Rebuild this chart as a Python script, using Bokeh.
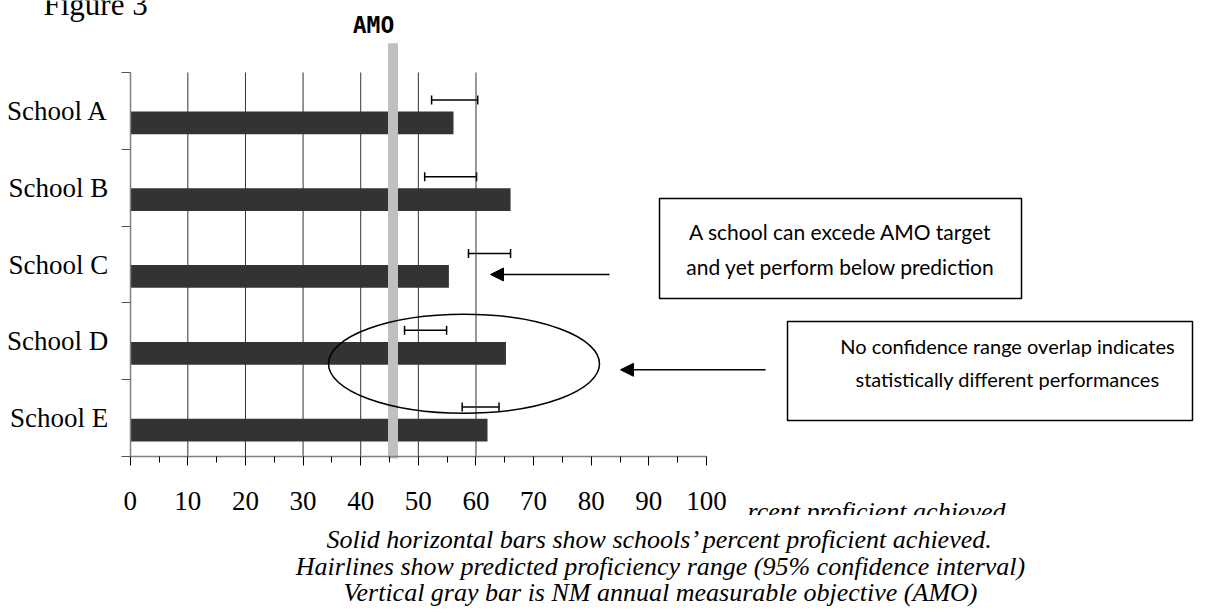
from bokeh.plotting import figure
from bokeh.models import (Range1d, FixedTicker, Whisker, TeeHead, Arrow, NormalHead,
                          Label, BoxAnnotation, ColumnDataSource)
from bokeh.embed import file_html
from bokeh.resources import INLINE

# ---------------- data ----------------
schools = ["School A", "School B", "School C", "School D", "School E"]
achieved = [56.1, 66.0, 55.3, 65.2, 62.0]          # percent proficient achieved
pred_low = [52.3, 51.1, 58.7, 47.6, 57.6]          # predicted range (95% CI) low
pred_high = [60.3, 60.1, 66.0, 54.9, 64.0]         # predicted range (95% CI) high
amo = 45.6                                         # annual measurable objective
x_ticks = [0, 10, 20, 30, 40, 50, 60, 70, 80, 90, 100]
grid_ticks = [10, 20, 30, 40, 50, 60]
caption_lines = [
    "Solid horizontal bars show schools\u2019 percent proficient achieved.",
    "Hairlines show predicted proficiency range (95% confidence interval)",
    "Vertical gray bar is NM annual measurable objective (AMO)",
]
note1 = ["A school can excede AMO target", "and yet perform below prediction"]
note2 = ["No confidence range overlap indicates", "statistically different performances"]

# ---------------- geometry ----------------
W, H = 1210, 614
X0_PX = 129.7      # canvas px of value 0
XS = 5.763         # px per percent
Y_TOP_PX = 72.0    # canvas px of top category boundary
YS = 76.8          # px per category
n = len(schools)
y_top = n + 0.5 + Y_TOP_PX / YS
y_bot = y_top - H / YS


def sx(px):  # canvas x -> data x
    return (px - X0_PX) / XS


def sy(py):  # canvas y -> data y
    return y_top - py / YS


def base_y(py, size):  # baseline in canvas px -> label y (renderer offset ~0.35em)
    return sy(py - 0.35 * size)


y_pos = [n - i for i in range(n)]
bar_y = [v - 0.156 for v in y_pos]
err_y = [v + 0.143 for v in y_pos]

p = figure(width=W, height=H, output_backend="svg", toolbar_location=None,
           x_range=Range1d(-X0_PX / XS, (W - X0_PX) / XS),
           y_range=Range1d(y_bot, y_top),
           min_border=0, outline_line_color=None)
p.grid.visible = False
p.background_fill_color = "white"
p.border_fill_color = "white"

SERIF = "Liberation Serif"
SANS = "Lato"

# x axis
xa = p.xaxis[0]
xa.fixed_location = 0.5
xa.bounds = (x_ticks[0], x_ticks[-1])
xa.ticker = FixedTicker(ticks=x_ticks, minor_ticks=[t + 5 for t in x_ticks[:-1]])
xa.axis_line_color = "#808080"
xa.axis_line_width = 1.5
xa.major_tick_in = 0
xa.major_tick_out = 9
xa.minor_tick_in = 0
xa.minor_tick_out = 6
xa.major_tick_line_color = "black"
xa.minor_tick_line_color = "black"
xa.major_label_text_font = SERIF
xa.major_label_text_font_size = "27px"
xa.major_label_text_color = "black"
xa.major_label_standoff = 26

# y axis
ya = p.yaxis[0]
ya.fixed_location = 0
ya.bounds = (0.5, n + 0.5)
ya.ticker = FixedTicker(ticks=y_pos, minor_ticks=[k + 0.5 for k in range(n + 1)])
ya.major_label_overrides = {yp: s for yp, s in zip(y_pos, schools)}
ya.axis_line_color = "#808080"
ya.axis_line_width = 1.5
ya.major_tick_in = 0
ya.major_tick_out = 0
ya.minor_tick_in = 0
ya.minor_tick_out = 9
ya.minor_tick_line_color = "#555555"
ya.major_label_text_font = SERIF
ya.major_label_text_font_size = "27px"
ya.major_label_text_color = "black"
ya.major_label_standoff = 13

# vertical grid lines
p.segment(x0=grid_ticks, x1=grid_ticks, y0=0.5, y1=n + 0.5,
          line_color="#333333", line_width=1)

# achieved bars
p.hbar(y=bar_y, left=0, right=achieved, height=0.296,
       fill_color="#333333", line_color=None)

# AMO gray bar
p.vbar(x=[amo], width=10 / XS, bottom=sy(458), top=sy(42.7),
       fill_color="#c0c0c0", line_color=None)

# predicted ranges (hairlines)
src = ColumnDataSource(dict(y=err_y, lo=pred_low, hi=pred_high))
p.add_layout(Whisker(source=src, base="y", lower="lo", upper="hi", dimension="width",
                     line_color="black", line_width=1.5,
                     lower_head=TeeHead(size=9, line_color="black", line_width=1.5),
                     upper_head=TeeHead(size=9, line_color="black", line_width=1.5)))

# ellipse around School D
p.ellipse(x=sx(463.5), y=sy(363.3), width=271 / XS, height=99 / YS,
          fill_color=None, line_color="black", line_width=1.5)

# arrows
p.add_layout(Arrow(x_start=sx(609), y_start=sy(274), x_end=sx(490), y_end=sy(274),
                   line_width=1.5, line_color="black",
                   end=NormalHead(size=13, fill_color="black", line_color="black")))
p.add_layout(Arrow(x_start=sx(765), y_start=sy(369.3), x_end=sx(620), y_end=sy(369.3),
                   line_width=1.5, line_color="black",
                   end=NormalHead(size=13, fill_color="black", line_color="black")))

# note boxes
p.add_layout(BoxAnnotation(left=sx(659), right=sx(1021), top=sy(198), bottom=sy(298),
                           fill_color="white", fill_alpha=1, line_color="black",
                           line_alpha=1, line_width=1.5))
for txt, base in zip(note1, [238, 273]):
    p.add_layout(Label(x=sx(840), y=base_y(base, 21), text=txt, text_font=SANS,
                       text_font_size="21px", text_align="center",
                       text_baseline="alphabetic", text_color="black"))

p.add_layout(BoxAnnotation(left=sx(787), right=sx(1192), top=sy(321), bottom=sy(420),
                           fill_color="white", fill_alpha=1, line_color="black",
                           line_alpha=1, line_width=1.5))
for txt, base in zip(note2, [352, 385]):
    p.add_layout(Label(x=sx(1007), y=base_y(base, 20), text=txt, text_font=SANS,
                       text_font_size="20px", text_align="center",
                       text_baseline="alphabetic", text_color="black"))

# AMO label
p.add_layout(Label(x=sx(373), y=base_y(33, 23), text="AMO", text_font="DejaVu Sans Mono",
                   text_font_style="bold", text_font_size="23px",
                   text_align="center", text_baseline="alphabetic", text_color="black"))

# Figure title (cut at top)
p.add_layout(Label(x=sx(43), y=base_y(15, 31), text="Figure 3", text_font=SERIF,
                   text_font_size="31px", text_align="left",
                   text_baseline="alphabetic", text_color="black"))

# partially hidden axis title
p.add_layout(Label(x=sx(747), y=base_y(520, 26), text="rcent proficient achieved",
                   text_font=SERIF, text_font_style="italic", text_font_size="26px",
                   text_align="left", text_baseline="alphabetic", text_color="black"))
p.add_layout(BoxAnnotation(left=sx(740), right=sx(1040), top=sy(514.5), bottom=sy(528),
                           fill_color="white", fill_alpha=1, line_color=None))

# caption
for txt, base in zip(caption_lines, [548, 575, 601.5]):
    p.add_layout(Label(x=sx(660), y=base_y(base, 26), text=txt, text_font=SERIF,
                       text_font_style="italic", text_font_size="26px",
                       text_align="center", text_baseline="alphabetic",
                       text_color="black"))

open("out.html", "w").write(file_html(p, INLINE))
